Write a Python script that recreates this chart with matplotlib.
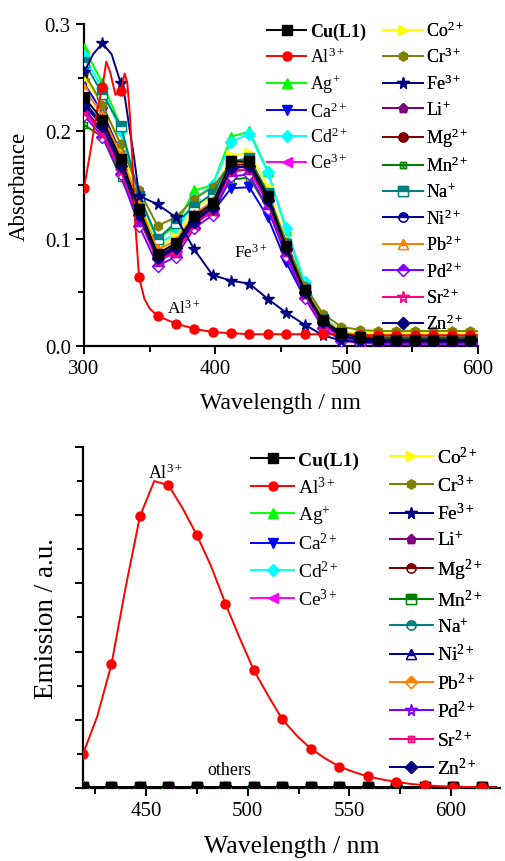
import numpy as np
import matplotlib
matplotlib.use("Agg")
import matplotlib.pyplot as plt
from matplotlib.path import Path
from matplotlib.lines import Line2D
from matplotlib.ticker import MultipleLocator, NullFormatter, FormatStrFormatter

plt.rcParams['font.family'] = ['Liberation Serif', 'DejaVu Serif']
plt.rcParams['mathtext.fontset'] = 'custom'
plt.rcParams['mathtext.rm'] = 'Liberation Serif'
plt.rcParams['mathtext.it'] = 'Liberation Serif:italic'
plt.rcParams['mathtext.bf'] = 'Liberation Serif:bold'

# ---------------- data: absorbance (top) ----------------
wl_abs = [300, 314, 328, 342, 356, 370, 384, 398, 412, 426, 440, 454, 468,
          482, 496, 510, 524, 538, 552, 566, 580, 594, 600]

abs_cu = [0.232, 0.211, 0.174, 0.128, 0.086, 0.096, 0.121, 0.133, 0.172, 0.172, 0.140, 0.093, 0.052,
          0.024, 0.012, 0.008, 0.006, 0.006, 0.006, 0.006, 0.006, 0.006, 0.006]
abs_ag = [0.278, 0.245, 0.205, 0.140, 0.100, 0.112, 0.145, 0.150, 0.195, 0.200, 0.163, 0.108, 0.058,
          0.026, 0.014, 0.010, 0.009, 0.009, 0.009, 0.009, 0.009, 0.009, 0.009]
abs_ca = [0.245, 0.218, 0.180, 0.125, 0.085, 0.090, 0.115, 0.125, 0.147, 0.148, 0.120, 0.078, 0.045,
          0.020, 0.008, 0.004, 0.003, 0.003, 0.003, 0.003, 0.003, 0.003, 0.003]
abs_cd = [0.270, 0.240, 0.200, 0.135, 0.095, 0.105, 0.137, 0.150, 0.190, 0.198, 0.162, 0.110, 0.060,
          0.027, 0.014, 0.010, 0.009, 0.009, 0.009, 0.009, 0.009, 0.009, 0.009]
abs_ce = [0.220, 0.200, 0.165, 0.122, 0.080, 0.088, 0.113, 0.127, 0.162, 0.165, 0.133, 0.088, 0.048,
          0.020, 0.008, 0.005, 0.004, 0.004, 0.004, 0.004, 0.004, 0.004, 0.004]
abs_co = [0.250, 0.225, 0.185, 0.135, 0.092, 0.102, 0.128, 0.140, 0.178, 0.180, 0.148, 0.098, 0.054,
          0.025, 0.014, 0.012, 0.012, 0.012, 0.012, 0.012, 0.012, 0.012, 0.012]
abs_cr = [0.255, 0.225, 0.188, 0.145, 0.112, 0.120, 0.137, 0.148, 0.170, 0.172, 0.142, 0.097, 0.056,
          0.030, 0.018, 0.015, 0.014, 0.014, 0.014, 0.014, 0.014, 0.014, 0.014]
abs_li = [0.222, 0.200, 0.165, 0.120, 0.080, 0.090, 0.115, 0.128, 0.163, 0.165, 0.133, 0.088, 0.048,
          0.021, 0.009, 0.005, 0.004, 0.004, 0.004, 0.004, 0.004, 0.004, 0.004]
abs_mg = [0.228, 0.205, 0.170, 0.125, 0.084, 0.094, 0.119, 0.131, 0.168, 0.170, 0.137, 0.091, 0.051,
          0.024, 0.012, 0.009, 0.008, 0.008, 0.008, 0.008, 0.008, 0.008, 0.008]
abs_mn = [0.206, 0.195, 0.157, 0.118, 0.082, 0.092, 0.117, 0.128, 0.155, 0.157, 0.128, 0.086, 0.048,
          0.021, 0.008, 0.005, 0.005, 0.005, 0.005, 0.005, 0.005, 0.005, 0.005]
abs_na = [0.265, 0.235, 0.205, 0.140, 0.100, 0.115, 0.130, 0.142, 0.172, 0.175, 0.143, 0.095, 0.053,
          0.025, 0.012, 0.008, 0.007, 0.007, 0.007, 0.007, 0.007, 0.007, 0.007]
abs_ni = [0.228, 0.207, 0.170, 0.124, 0.083, 0.092, 0.117, 0.130, 0.165, 0.168, 0.136, 0.090, 0.050,
          0.022, 0.010, 0.006, 0.005, 0.005, 0.005, 0.005, 0.005, 0.005, 0.005]
abs_pb = [0.240, 0.215, 0.178, 0.132, 0.090, 0.098, 0.123, 0.135, 0.170, 0.172, 0.140, 0.094, 0.053,
          0.025, 0.013, 0.010, 0.010, 0.010, 0.010, 0.010, 0.010, 0.010, 0.010]
abs_pd = [0.215, 0.195, 0.160, 0.112, 0.075, 0.083, 0.110, 0.122, 0.158, 0.160, 0.128, 0.084, 0.045,
          0.017, 0.005, 0.003, 0.002, 0.002, 0.002, 0.002, 0.002, 0.002, 0.002]
abs_sr = [0.218, 0.198, 0.163, 0.120, 0.079, 0.087, 0.113, 0.126, 0.163, 0.165, 0.133, 0.088, 0.048,
          0.020, 0.008, 0.005, 0.004, 0.004, 0.004, 0.004, 0.004, 0.004, 0.004]
abs_zn = [0.225, 0.205, 0.168, 0.122, 0.082, 0.091, 0.116, 0.129, 0.166, 0.168, 0.136, 0.090, 0.050,
          0.022, 0.009, 0.006, 0.005, 0.005, 0.005, 0.005, 0.005, 0.005, 0.005]

# Al3+ and Fe3+ have sharper features, read on a finer grid
wl_al = [300, 305, 310, 314, 317, 320, 324, 328, 331, 333, 335, 337, 339, 342, 346, 350, 356,
         370, 384, 398, 412, 426, 440, 454, 468, 482, 496, 510, 524, 538, 552, 566, 580, 594, 600]
abs_al = [0.147, 0.182, 0.220, 0.241, 0.265, 0.255, 0.234, 0.238, 0.254, 0.245, 0.215, 0.170, 0.115,
          0.064, 0.044, 0.035, 0.028, 0.021, 0.016, 0.013, 0.012, 0.011, 0.011, 0.011, 0.011, 0.011,
          0.011, 0.010, 0.010, 0.010, 0.010, 0.010, 0.010, 0.010, 0.010]
wl_fe = [300, 307, 314, 321, 328, 331, 335, 338, 342, 356, 370, 384, 398, 412, 426, 440, 454,
         468, 482, 496, 510, 524, 538, 552, 566, 580, 594, 600]
abs_fe = [0.255, 0.272, 0.282, 0.272, 0.245, 0.233, 0.200, 0.177, 0.140, 0.132, 0.120, 0.090, 0.066,
          0.061, 0.058, 0.044, 0.031, 0.020, 0.010, 0.005, 0.004, 0.004, 0.004, 0.004, 0.004, 0.004,
          0.004, 0.004]

# ---------------- data: emission (bottom) ----------------
wl_em_al = [419, 426, 433, 440, 447, 454, 461, 468, 475, 482, 489, 496, 503, 510, 517,
            524, 531, 538, 545, 552, 559, 566, 573, 580, 587, 594, 601, 608, 615, 622]
em_al = [1.0, 2.1, 3.63, 5.9, 7.97, 9.0, 8.88, 8.2, 7.41, 6.5, 5.41, 4.4, 3.45, 2.71, 2.01,
         1.54, 1.15, 0.87, 0.63, 0.47, 0.34, 0.25, 0.18, 0.12, 0.08, 0.055, 0.04, 0.03, 0.02, 0.02]
wl_em = [419, 433, 447, 461, 475, 489, 503, 517, 531, 545, 559, 573, 587, 601, 615, 622]
em_others = [0.03, 0.03, 0.03, 0.03, 0.03, 0.03, 0.03, 0.03, 0.03, 0.03, 0.03, 0.03, 0.03, 0.03, 0.03, 0.03]

names = ['Cu(L1)', 'Al$^{3+}$', 'Ag$^{+}$', 'Ca$^{2+}$', 'Cd$^{2+}$', 'Ce$^{3+}$',
         'Co$^{2+}$', 'Cr$^{3+}$', 'Fe$^{3+}$', 'Li$^{+}$', 'Mg$^{2+}$', 'Mn$^{2+}$',
         'Na$^{+}$', 'Ni$^{2+}$', 'Pb$^{2+}$', 'Pd$^{2+}$', 'Sr$^{2+}$', 'Zn$^{2+}$']
colors = ['#000000', '#ff0000', '#00ff00', '#0000ff', '#00ffff', '#ff00ff',
          '#ffff00', '#808000', '#000080', '#800080', '#800000', '#008000',
          '#008080', '#0000a0', '#ff8000', '#8000ff', '#ff0080', '#000080']

# square with a cross inside
boxplus = Path([(-1, -1), (1, -1), (1, 1), (-1, 1), (-1, -1), (0, -1), (0, 1), (-1, 0), (1, 0)],
               [Path.MOVETO, Path.LINETO, Path.LINETO, Path.LINETO, Path.CLOSEPOLY,
                Path.MOVETO, Path.LINETO, Path.MOVETO, Path.LINETO])

# (marker, fillstyle) per series, top and bottom panels differ a bit
mk_top = [('s', 'full'), ('o', 'full'), ('^', 'full'), ('v', 'full'), ('D', 'full'), ('<', 'full'),
          ('>', 'full'), ('h', 'full'), ('*', 'full'), ('p', 'full'), ('o', 'full'), (boxplus, 'none'),
          ('s', 'top'), ('o', 'top'), ('^', 'top'), ('D', 'top'), ('*', 'none'), ('D', 'full')]
mk_bot = [('s', 'full'), ('o', 'full'), ('^', 'full'), ('v', 'full'), ('D', 'full'), ('<', 'full'),
          ('>', 'full'), ('h', 'full'), ('*', 'full'), ('p', 'full'), ('o', 'top'), ('s', 'top'),
          ('o', 'top'), ('^', 'top'), ('D', 'top'), ('*', 'none'), (boxplus, 'none'), ('D', 'full')]


def style(i, mks):
    m, fs = mks[i]
    kw = dict(color=colors[i], lw=1.4, marker=m, markeredgecolor=colors[i], markeredgewidth=1.0)
    if fs == 'full':
        kw.update(markerfacecolor=colors[i], markersize=6.5 if m != '*' else 8.5)
    elif fs == 'top':
        kw.update(fillstyle='top', markerfacecolor=colors[i], markerfacecoloralt='white', markersize=6.5)
    else:
        kw.update(markerfacecolor='none', markersize=8.5 if m == '*' else 5)
    return kw


fig = plt.figure(figsize=(5.05, 8.62), dpi=100)

# ================= top: absorbance =================
ax1 = fig.add_axes([0.1663, 0.5974, 0.780, 0.3735])
abs_series = [abs_cu, abs_al, abs_ag, abs_ca, abs_cd, abs_ce, abs_co, abs_cr, abs_fe,
              abs_li, abs_mg, abs_mn, abs_na, abs_ni, abs_pb, abs_pd, abs_sr, abs_zn]
order = list(range(2, 18)) + [1, 0]
for i in order:
    if i == 1:
        xs = wl_al
    elif i == 8:
        xs = wl_fe
    else:
        xs = wl_abs
    ys = abs_series[i]
    me = [k for k, x in enumerate(xs) if (x - 300) % 14 == 0]
    ax1.plot(xs, ys, markevery=me, zorder=3 + (i == 0) * 2 + (i in (1, 8)), **style(i, mk_top))

ax1.set_xlim(300, 600)
ax1.set_ylim(0, 0.3)
ax1.xaxis.set_major_locator(MultipleLocator(100))
ax1.xaxis.set_minor_locator(MultipleLocator(50))
ax1.yaxis.set_major_locator(MultipleLocator(0.1))
ax1.yaxis.set_minor_locator(MultipleLocator(0.05))
ax1.yaxis.set_major_formatter(FormatStrFormatter('%.1f'))
ax1.set_xlabel('Wavelength / nm', fontsize=17, labelpad=10)
ax1.set_ylabel('Absorbance', fontsize=16.5, labelpad=11)
ax1.text(363, 0.031, 'Al$^{3+}$', fontsize=12.5)
ax1.text(414, 0.083, 'Fe$^{3+}$', fontsize=12.5)

# ================= bottom: emission =================
ax2 = fig.add_axes([0.1644, 0.0847, 0.8257, 0.3956])
for i in range(17, -1, -1):
    if i == 1:
        ax2.plot(wl_em_al, em_al, markevery=list(range(0, 29, 2)), zorder=4, **style(i, mk_bot))
    else:
        ax2.plot(wl_em, em_others, markevery=list(range(15)), zorder=3, **style(i, mk_bot))

ax2.set_xlim(419, 624)
ax2.set_ylim(0, 10)
ax2.xaxis.set_major_locator(MultipleLocator(50))
ax2.xaxis.set_minor_locator(MultipleLocator(25))
ax2.yaxis.set_major_locator(MultipleLocator(2))
ax2.yaxis.set_minor_locator(MultipleLocator(1))
ax2.yaxis.set_major_formatter(NullFormatter())
ax2.set_xlabel('Wavelength / nm', fontsize=18.5, labelpad=11)
ax2.set_ylabel('Emission / a.u.', fontsize=19.5, labelpad=8)
ax2.text(459.5, 9.1, 'Al$^{3+}$', fontsize=13, ha='center')
ax2.text(491, 0.55, 'others', fontsize=13, ha='center', va='center')

for ax in (ax1, ax2):
    for s in ('top', 'right'):
        ax.spines[s].set_visible(False)
    for s in ('left', 'bottom'):
        ax.spines[s].set_linewidth(1.6)
    ax.tick_params(which='major', direction='out', length=6, width=1.4, labelsize=15)
    ax.tick_params(which='minor', direction='out', length=4, width=1.4)


# ================= legends =================
def add_legends(ax, mks, spots, fs, hl, spacings):
    handles = [Line2D([], [], **style(i, mks)) for i in range(18)]
    for (lo, hi), (x, y), sp in zip([(0, 6), (6, 18)], spots, spacings):
        leg = ax.legend(handles[lo:hi], names[lo:hi], loc='upper left',
                        bbox_to_anchor=(x, y), bbox_transform=fig.transFigure,
                        frameon=False, fontsize=fs, handlelength=hl, handletextpad=0.2,
                        borderpad=0, borderaxespad=0, labelspacing=sp, numpoints=1)
        if lo == 0:
            leg.get_texts()[0].set_fontweight('bold')
        ax.add_artist(leg)


add_legends(ax1, mk_top, [(0.528, 0.9722), (0.758, 0.975)], 13, 2.2, (0.35, 0.39))
add_legends(ax2, mk_bot, [(0.498, 0.475), (0.772, 0.482)], 14, 2.2, (0.33, 0.37))

fig.savefig('out.png', dpi=100)
